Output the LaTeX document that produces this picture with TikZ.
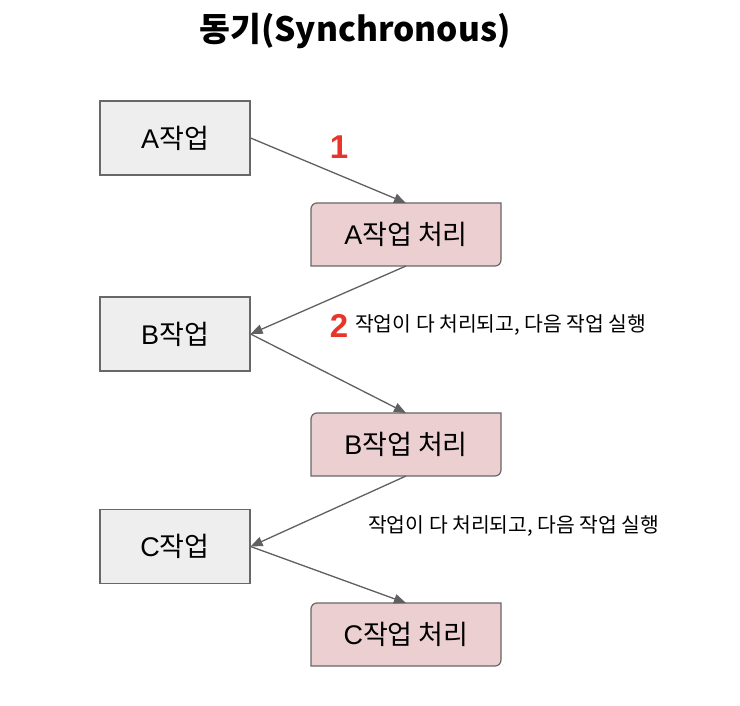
\documentclass[tikz,border=0pt]{standalone}
\usepackage{fontspec}
\setmainfont{Liberation Sans}
\newfontfamily\krf{Noto Sans CJK KR}
\usetikzlibrary{arrows.meta,backgrounds}
\definecolor{grayfill}{RGB}{238,238,238}
\definecolor{pinkfill}{RGB}{236,207,209}
\definecolor{edgec}{RGB}{104,104,104}
\definecolor{arrowc}{RGB}{96,96,96}
\definecolor{numred}{RGB}{232,52,42}
\newcommand\pinkoutline[1]{%
  \begin{scope}[on background layer]
    \draw[pinkdraw] (#1.south west) -- ([yshift=-6pt]#1.north west)
      arc[start angle=180,end angle=90,radius=6pt] -- (#1.north east)
      -- ([yshift=6pt]#1.south east)
      arc[start angle=0,end angle=-90,radius=6pt] -- cycle;
  \end{scope}}
\begin{document}
\begin{tikzpicture}[x=1pt,y=1pt,
  graybox/.style={draw=edgec, fill=grayfill, line width=1.2pt,
    minimum width=150pt, minimum height=74pt, inner sep=0pt,
    font=\fontsize{27}{30}\selectfont},
  pinkbox/.style={minimum width=190pt, minimum height=63pt, inner sep=0pt,
    outer sep=0pt, font=\fontsize{27}{30}\selectfont},
  pinkdraw/.style={draw=edgec, fill=pinkfill, line width=1.2pt},
  conn/.style={draw=arrowc, line width=1.3pt,
    -{Triangle[length=12pt,width=9.5pt]}},
  num/.style={text=numred, font=\bfseries\fontsize{33}{36}\selectfont, inner sep=0pt},
  note/.style={font=\krf\fontsize{20.4}{24}\selectfont, inner sep=0pt, anchor=west}]
\begin{scope}[on background layer]
  \path[fill=white, use as bounding box] (0,0) rectangle (740,-706);
\end{scope}
\node[font=\krf\bfseries\fontsize{33.5}{38}\selectfont] (title) at (355,-31) {동기(Synchronous)};
\node[graybox] (a1) at (175,-138) {A{\krf 작업}};
\node[pinkbox] (a2) at (406,-234.5) {A{\krf 작업 처리}};
\node[graybox] (b1) at (175,-334) {B{\krf 작업}};
\node[pinkbox] (b2) at (406,-444.5) {B{\krf 작업 처리}};
\node[graybox] (c1) at (175,-546.5) {C{\krf 작업}};
\node[pinkbox] (c2) at (406,-634.5) {C{\krf 작업 처리}};
\pinkoutline{a2}
\pinkoutline{b2}
\pinkoutline{c2}
\draw[conn] (a1.east) -- (a2.north);
\draw[conn] (a2.south) -- (b1.east);
\draw[conn] (b1.east) -- (b2.north);
\draw[conn] (b2.south) -- (c1.east);
\draw[conn] (c1.east) -- (c2.north);
\node[num] (n1) at (339,-147) {1};
\node[num] (n2) at (339,-325.5) {2};
\node[note] (t1) at (355,-325) {작업이 다 처리되고, 다음 작업 실행};
\node[note] (t2) at (368,-526) {작업이 다 처리되고, 다음 작업 실행};
\end{tikzpicture}
\end{document}
